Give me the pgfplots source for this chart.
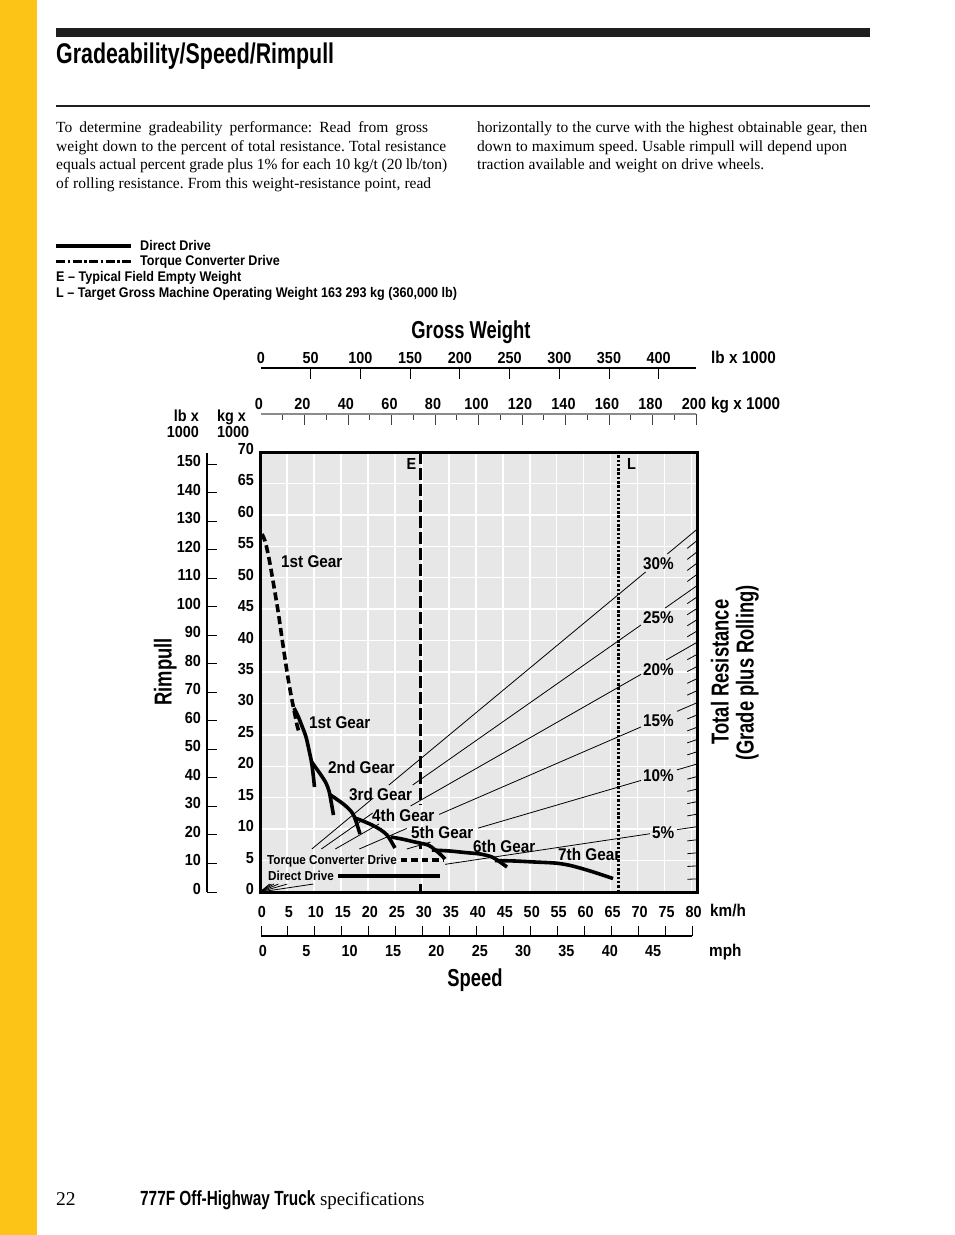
\documentclass[border=0pt]{standalone}
\usepackage{fontspec}
\setmainfont{Liberation Serif}
\newfontfamily\hel[FakeStretch=0.9]{Liberation Sans}
\newfontfamily\cond[FakeStretch=0.75]{Liberation Sans}
\usepackage{pgfplots}
\pgfplotsset{compat=1.18}
\definecolor{cat}{RGB}{252,196,22}
\definecolor{plotbg}{RGB}{231,231,231}
\newcommand\tk{\hel\bfseries\fontsize{16}{18}\selectfont}
\newcommand\un{\hel\bfseries\fontsize{17}{19}\selectfont}
\newcommand\gl{\hel\bfseries\fontsize{17}{19}\selectfont}
\newcommand\sm{\hel\bfseries\fontsize{13}{15}\selectfont}
\newcommand\lgd{\hel\bfseries\fontsize{14}{16}\selectfont}
\newcommand\ttl{\cond\bfseries\fontsize{24.5}{27}\selectfont}
\newcommand\body{\fontsize{15.5}{18}\selectfont}
\frenchspacing
\pgfplotsset{scalestyle/.style={scale only axis,
  /pgf/number format/assume math mode=true, /pgf/number format/1000 sep={},
  ticklabel style={font=\tk}, tick style={line width=1pt, black},
  axis line style={line width=1.2pt}, tick align=inside}}
\begin{document}
\begin{tikzpicture}[x=1pt,y=1pt]
\useasboundingbox (0,0) rectangle (954,-1235);
\coordinate (Pmain) at (260,-892);
\coordinate (Plb) at (261,-368);
\coordinate (Pkg) at (261,-414);
\coordinate (Pleft) at (207,-892);
\coordinate (Pbot) at (261,-936);
\begin{scope}[yscale=-1]
\fill[white] (0,0) rectangle (954,1235);
\fill[cat] (0,0) rectangle (37,1235);
% header
\fill[black!88] (56,28) rectangle (870,36.5);
\node[anchor=base west, inner sep=0pt, font=\cond\bfseries\fontsize{28.5}{30}\selectfont] at (56,63.5) {Gradeability/Speed/Rimpull};
\fill[black!88] (56,105) rectangle (870,107.2);
% body text
\begin{scope}[every node/.style={anchor=base west, inner sep=0pt, font=\body}]
\node at (56,132.5) {\makebox[372pt][s]{To determine gradeability performance: Read from gross}};
\node at (56,151) {\makebox[390pt][s]{weight down to the percent of total resistance. Total resistance}};
\node at (56,169.5) {\makebox[391pt][s]{equals actual percent grade plus 1\% for each 10 kg/t (20 lb/ton)}};
\node at (56,188) {\makebox[375pt][s]{of rolling resistance. From this weight-resistance point, read}};
\node at (477,132.5) {\makebox[390pt][s]{horizontally to the curve with the highest obtainable gear, then}};
\node at (477,151) {\makebox[370pt][s]{down to maximum speed. Usable rimpull will depend upon}};
\node at (477,169.5) {\makebox[287pt][s]{traction available and weight on drive wheels.}};
\end{scope}
% legend
\draw[line width=3.5pt] (56,246)--(131,246);
\draw[line width=3pt, dash pattern=on 9pt off 2.6pt on 2.4pt off 2.6pt] (56,261)--(131,261);
\begin{scope}[every node/.style={anchor=base west, inner sep=0pt, font=\lgd}]
\node at (140,250.5) {Direct Drive};
\node at (140,265.5) {Torque Converter Drive};
\node at (56,281.5) {E – Typical Field Empty Weight};
\node at (56,297.5) {L – Target Gross Machine Operating Weight 163 293 kg (360,000 lb)};
\end{scope}
\end{scope}

% ---------- main chart ----------
\begin{axis}[at={(Pmain)}, anchor=south west, scale only axis,
  width=437pt, height=440pt,
  xmin=0, xmax=81, ymin=0, ymax=70,
  axis background/.style={fill=plotbg},
  axis line style={line width=3pt},
  xtick={0,5,...,80}, ytick={0,5,...,70},
  major tick length=0pt,
  grid=major, major grid style={white, line width=1.5pt},
  /pgf/number format/assume math mode=true,
  ticklabel style={font=\tk},
  xticklabel style={anchor=north, inner sep=0pt, yshift=-14pt, xshift=2pt},
  yticklabel style={anchor=east, inner sep=0pt, xshift=-6pt, yshift=3pt},
  unbounded coords=jump]
% total resistance rays (30, 25, 20, 15, 10, 5 %)
\addplot[black, line width=0.8pt] coordinates {(0,0)(1.78,1.268) (5,nan) (9.60,6.838)(21.0,14.96) (22,nan) (23.89,17.02)(71.47,50.91) (73,nan) (75.49,53.77)(81,57.70)};
\addplot[black, line width=0.8pt] coordinates {(0,0)(2.11,1.269) (5,nan) (11.37,6.84)(20.9,12.57) (24,nan) (28.29,17.02)(70.62,42.48) (73,nan) (75.1,45.18)(81,48.73)};
\addplot[black, line width=0.8pt] coordinates {(0,0)(2.59,1.27) (5,nan) (13.95,6.84)(22.06,10.82) (24,nan) (27.9,13.68)(70.62,34.63) (73,nan) (75.27,36.91)(81,39.72)};
\addplot[black, line width=0.8pt] coordinates {(0,0)(3.42,1.27) (5,nan) (18.4,6.84)(27.2,10.11) (30,nan) (33.2,12.34)(70.62,26.26) (73,nan) (77.29,28.74)(81,30.11)};
\addplot[black, line width=0.8pt] coordinates {(0,0)(5.05,1.27) (10,nan) (27.2,6.84)(31.6,7.94) (35,nan) (40.41,10.16)(70.62,17.75) (73,nan) (77.29,19.43)(81,20.36)};
\addplot[black, line width=0.8pt] coordinates {(0,0)(9.9,1.27) (20,nan) (34.3,4.40)(72.29,9.27) (74,nan) (77.29,9.92)(81,10.39)};
% 1 % ticks on the right edge
\addplot[black, line width=0.8pt] coordinates {
(79.2,2.032)(81,2.078) (80,nan) (79.2,4.064)(81,4.156) (80,nan) (79.2,6.096)(81,6.234) (80,nan) (79.2,8.127)(81,8.312) (80,nan)
(79.2,12.109)(81,12.384) (80,nan) (79.2,14.059)(81,14.378) (80,nan) (79.2,16.009)(81,16.372) (80,nan) (79.2,17.958)(81,18.366) (80,nan)
(79.2,21.815)(81,22.31) (80,nan) (79.2,23.721)(81,24.26) (80,nan) (79.2,25.628)(81,26.21) (80,nan) (79.2,27.535)(81,28.16) (80,nan)
(79.2,31.319)(81,32.03) (80,nan) (79.2,33.196)(81,33.95) (80,nan) (79.2,35.074)(81,35.87) (80,nan) (79.2,36.961)(81,37.80) (80,nan)
(79.2,40.598)(81,41.52) (80,nan) (79.2,42.358)(81,43.32) (80,nan) (79.2,44.118)(81,45.12) (80,nan) (79.2,45.888)(81,46.93) (80,nan)
(79.2,49.398)(81,50.52) (80,nan) (79.2,51.158)(81,52.32) (80,nan) (79.2,52.909)(81,54.11) (80,nan) (79.2,54.669)(81,55.91)};
% E weight (broken where the gear labels sit) and L weight
\addplot[black, line width=3pt, dash pattern=on 12pt off 4pt] coordinates {(29.84,70)(29.84,13.84)};
\addplot[black, line width=3pt] coordinates {(29.84,8.0)(29.84,6.9)};
\addplot[black, line width=3pt] coordinates {(29.84,1.35)(29.84,0)};
\addplot[black, line width=3pt, dash pattern=on 2.5pt off 1.8pt] coordinates {(66.54,0)(66.54,70)};
% torque converter 1st gear
\addplot[black, line width=3.6pt, dash pattern=on 8pt off 4pt, smooth] coordinates {(0.37,56.95)(0.93,55.84)(1.58,53.45)(2.22,50.43)(3.34,44.70)(4.26,39.29)(5.19,34.04)(5.93,30.54)(6.49,28.16)(6.86,26.57)(7.23,25.45)};
% direct drive gears
\addplot[black, line width=3.6pt, smooth, line join=round] coordinates {(6.30,29.27)(7.04,28.00)(7.78,26.41)(8.53,24.66)(9.08,22.59)(9.55,20.68)(9.82,18.93)(10.10,16.70)};
\addplot[black, line width=3.6pt, smooth, line join=round] coordinates {(9.45,20.84)(10.38,19.73)(11.31,18.61)(12.23,17.34)(12.79,16.07)(13.16,14.48)(13.62,12.25)};
\addplot[black, line width=3.6pt, smooth, line join=round] coordinates {(12.79,15.59)(13.90,14.95)(15.20,14.16)(16.31,13.36)(17.24,12.41)(17.89,10.98)(18.54,9.23)};
\addplot[black, line width=3.6pt, smooth, line join=round] coordinates {(17.61,11.77)(19.09,11.29)(20.76,10.66)(22.43,9.86)(23.54,9.07)(24.28,8.11)(25.02,7.00)};
\addplot[black, line width=3.6pt, smooth, line join=round] coordinates {(24.28,8.75)(26.32,8.43)(28.73,7.95)(31.14,7.48)(32.25,6.84)(33.36,6.05)(34.29,5.25)};
\addplot[black, line width=3.6pt, smooth, line join=round] coordinates {(31.88,6.68)(35.22,6.52)(38.00,6.28)(40.78,6.05)(43.00,5.57)(44.49,4.77)(45.78,3.98)};
\addplot[black, line width=3.6pt, smooth, line join=round] coordinates {(43.56,5.01)(47.27,4.93)(50.97,4.77)(54.68,4.61)(57.09,4.30)(59.31,3.82)(62.09,3.10)(65.43,2.15)};
% key lines inside the chart
\addplot[black, line width=3.5pt, dash pattern=on 6.5pt off 4pt] coordinates {(26.1,5.09)(33.9,5.09)};
\addplot[black, line width=3.5pt] coordinates {(14.46,2.55)(33.36,2.55)};
\end{axis}

% top scale: lb x 1000
\begin{axis}[scalestyle, at={(Plb)}, anchor=north west, width=435pt, height=1pt,
  xmin=0, xmax=437.5, ymin=0, ymax=1, axis x line*=top, axis y line=none,
  xtick={50,100,...,400}, major tick length=11pt,
  extra x ticks={0}, extra x tick style={major tick length=0pt},
  xticklabel style={anchor=south, inner sep=0pt, yshift=4pt}]
\end{axis}
% top scale: kg x 1000
\begin{axis}[scalestyle, at={(Pkg)}, anchor=north west, width=435pt, height=1pt,
  xmin=0, xmax=200, ymin=0, ymax=1, axis x line*=top, axis y line=none,
  axis line style={black!45},
  xtick={20,40,...,200}, minor xtick={10,30,...,190},
  major tick length=11pt, minor tick length=6pt,
  tick style={black!75},
  extra x ticks={0}, extra x tick style={major tick length=0pt},
  xticklabel style={anchor=south, inner sep=0pt, yshift=4pt, xshift=-2pt}]
\end{axis}
% left scale: lb x 1000
\begin{axis}[scalestyle, at={(Pleft)}, anchor=south west, width=1pt, height=439pt,
  ymin=0, ymax=153.9, xmin=0, xmax=1, axis y line*=left, axis x line=none,
  ytick={0,10,...,150}, major tick length=10pt,
  yticklabel style={anchor=east, inner sep=0pt, xshift=-6pt, yshift=3pt}]
\end{axis}
% bottom scale: km/h tick marks, mph labels
\begin{axis}[scalestyle, at={(Pbot)}, anchor=south west, width=431pt, height=1pt,
  xmin=0, xmax=80, ymin=0, ymax=1, axis x line*=bottom, axis y line=none,
  xtick={0,8.047,16.093,24.14,32.187,40.234,48.28,56.327,64.374,72.42},
  xticklabels={0,5,10,15,20,25,30,35,40,45},
  major tick length=0pt,
  minor xtick={0,5,...,80}, minor tick length=10pt,
  xticklabel style={anchor=north, inner sep=0pt, yshift=-9.5pt, xshift=2pt}]
\end{axis}

% chart texts
\begin{scope}[yscale=-1, every node/.style={inner sep=0pt}]
\node[anchor=base, font=\ttl] at (471,338.7) {Gross Weight};
\node[anchor=base west, font=\un] at (711,363.5) {lb x 1000};
\node[anchor=base west, font=\un] at (711,409.5) {kg x 1000};
\node[anchor=base east, font=\tk] at (199,421) {lb x};
\node[anchor=base east, font=\tk] at (199,437) {1000};
\node[anchor=base west, font=\tk] at (217,421) {kg x};
\node[anchor=base west, font=\tk] at (217,437) {1000};
\node[anchor=base, rotate=90, font=\ttl] at (171.5,672) {Rimpull};
\node[anchor=base, rotate=90, font=\ttl] at (728.7,672) {Total Resistance};
\node[anchor=base, rotate=90, font=\ttl] at (753.7,673) {(Grade plus Rolling)};
\node[anchor=base, font=\ttl] at (475,986.5) {Speed};
\node[anchor=base west, font=\un] at (710,916.5) {km/h};
\node[anchor=base west, font=\un] at (709,956.5) {mph};
\node[anchor=base west, font=\tk] at (406.5,469.5) {E};
\node[anchor=base west, font=\tk] at (627,469.5) {L};
\node[anchor=base west, font=\gl] at (281,567) {1st Gear};
\node[anchor=base west, font=\gl] at (309,728) {1st Gear};
\node[anchor=base west, font=\gl] at (328,773) {2nd Gear};
\node[anchor=base west, font=\gl] at (349,800) {3rd Gear};
\node[anchor=base west, font=\gl] at (372,821) {4th Gear};
\node[anchor=base west, font=\gl] at (411,838) {5th Gear};
\node[anchor=base west, font=\gl] at (473,852) {6th Gear};
\node[anchor=base west, font=\gl] at (558,860) {7th Gear};
\node[anchor=base west, font=\gl] at (643,569) {30\%};
\node[anchor=base west, font=\gl] at (643,623) {25\%};
\node[anchor=base west, font=\gl] at (643,675) {20\%};
\node[anchor=base west, font=\gl] at (643,726) {15\%};
\node[anchor=base west, font=\gl] at (643,781) {10\%};
\node[anchor=base west, font=\gl] at (652,838) {5\%};
\node[anchor=base west, font=\sm] at (267,864.5) {Torque Converter Drive};
\node[anchor=base west, font=\sm] at (268,880.5) {Direct Drive};
% footer
\node[anchor=base west, font=\fontsize{19.5}{21}\selectfont] at (56,1205) {22};
\node[anchor=base west] at (140,1205) {{\cond\bfseries\fontsize{20.5}{22}\selectfont 777F Off-Highway Truck}{\fontsize{19}{21}\selectfont\ specifications}};
\end{scope}
\end{tikzpicture}
\end{document}
